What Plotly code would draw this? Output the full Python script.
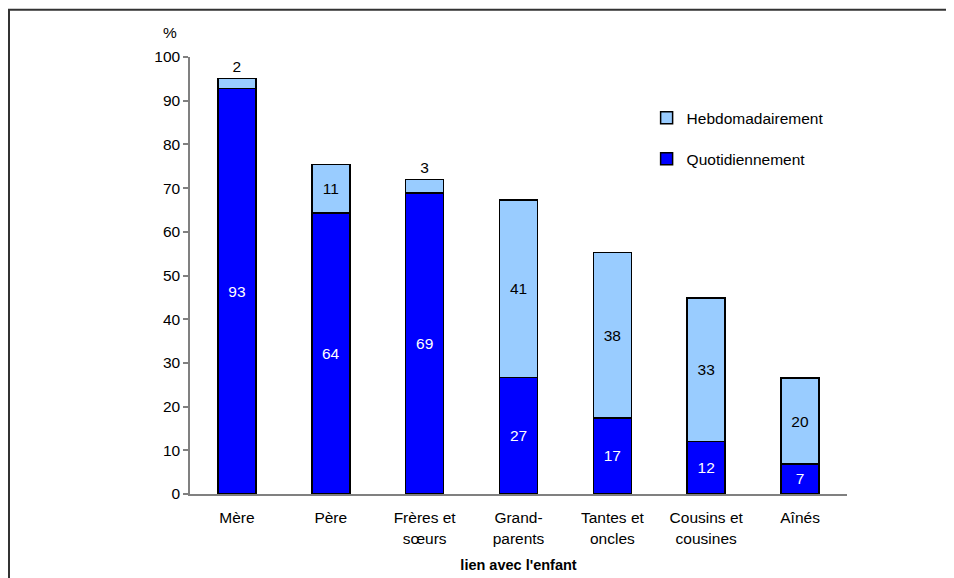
import plotly.graph_objects as go

categories = ["Mère", "Père", "Frères et<br>sœurs", "Grand-<br>parents",
              "Tantes et<br>oncles", "Cousins et<br>cousines", "Aînés"]
quotidiennement = [92.8, 64.3, 68.9, 26.7, 17.4, 12.0, 6.9]
hebdomadairement = [2.3, 11.1, 3.1, 40.6, 37.9, 32.8, 19.6]
hebdo_textpos = ["outside", "inside", "outside", "inside", "inside", "inside", "inside"]
y_ticks = [0, 10, 20, 30, 40, 50, 60, 70, 80, 90, 100]

FONT = "Liberation Sans, Arial, sans-serif"
FS = 15.5

fig = go.Figure()
fig.add_trace(go.Bar(
    x=categories, y=quotidiennement, name="Quotidiennement",
    marker=dict(color="#0000FF", line=dict(color="#000000", width=1.5)),
    texttemplate="%{y:.0f}", textposition="inside", insidetextanchor="middle",
    textfont=dict(color="white", size=FS, family=FONT),
    legendgroup="q", legendrank=2,
))
fig.add_trace(go.Bar(
    x=categories, y=hebdomadairement, name="Hebdomadairement",
    marker=dict(color="#99CCFF", line=dict(color="#000000", width=1.5)),
    texttemplate="%{y:.0f}", textposition=hebdo_textpos, insidetextanchor="middle",
    textfont=dict(color="black", size=FS, family=FONT),
    outsidetextfont=dict(color="black", size=FS, family=FONT),
    insidetextfont=dict(color="black", size=FS, family=FONT),
    cliponaxis=False, legendgroup="h", legendrank=1,
))

fig.update_layout(
    barmode="stack",
    bargap=0.595,
    width=946, height=570,
    margin=dict(l=182, r=107, t=49, b=84),
    paper_bgcolor="white", plot_bgcolor="white",
    font=dict(family=FONT, size=FS, color="black"),
    showlegend=True,
    legend=dict(
        x=0.695, y=0.899, xanchor="left", yanchor="top",
        traceorder="grouped", tracegroupgap=18,
        font=dict(size=FS, family=FONT, color="black"),
        bgcolor="rgba(0,0,0,0)", itemwidth=30,
    ),
    xaxis=dict(
        showline=True, linecolor="#808080", linewidth=1.5,
        ticks="", showgrid=False, ticklabelstandoff=9,
        tickfont=dict(size=FS),
        title=dict(text="<b>lien avec l'enfant</b>", font=dict(size=14.5), standoff=14),
        automargin=False,
    ),
    yaxis=dict(
        range=[0, 100], tickvals=y_ticks, showline=True, linecolor="#808080", linewidth=1.5,
        ticks="outside", ticklen=5, tickcolor="#808080", tickwidth=1.5,
        showgrid=False, zeroline=False, tickfont=dict(size=FS), automargin=False,
    ),
    annotations=[dict(text="%", xref="paper", yref="paper", x=-0.044, y=1.08,
                      showarrow=False, font=dict(size=FS))],
    shapes=[dict(type="rect", xref="paper", yref="paper",
                 x0=-0.2755, y0=-0.4, x1=1.3, y1=1.108,
                 line=dict(color="#333333", width=2), layer="below")],
)

fig.write_html("out.html")
